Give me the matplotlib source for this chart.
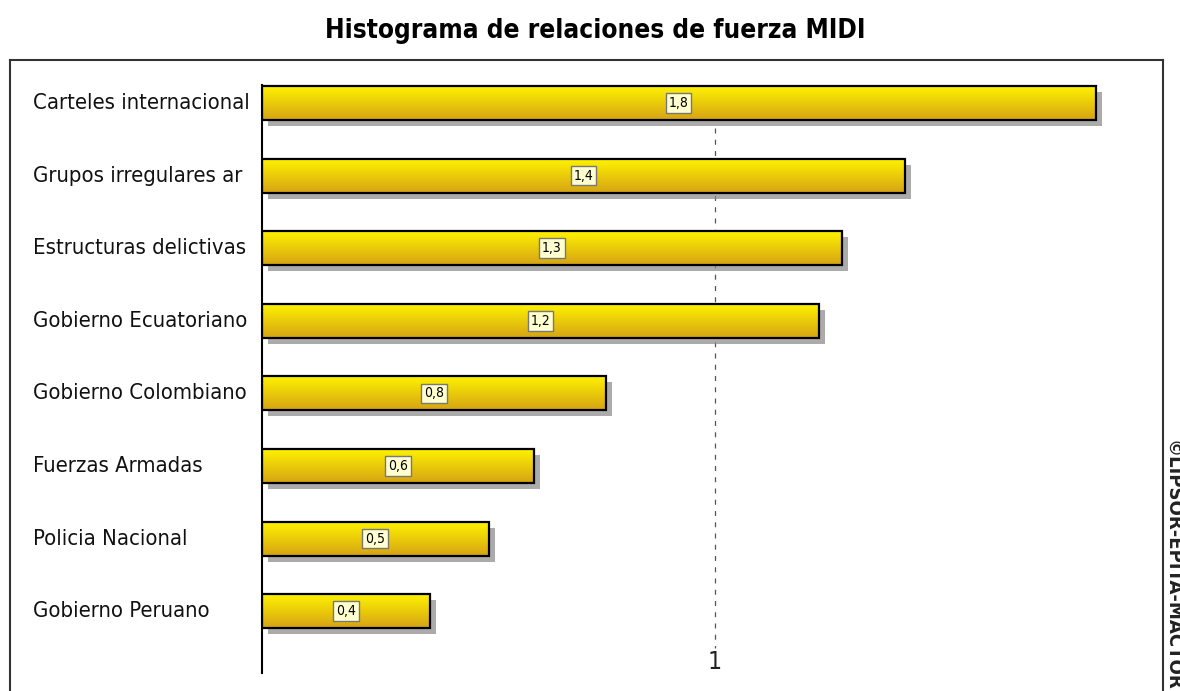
import numpy as np
import matplotlib
matplotlib.use("Agg")
import matplotlib.pyplot as plt
from matplotlib.patches import Rectangle
from matplotlib.lines import Line2D
from matplotlib import font_manager
from matplotlib.font_manager import FontProperties

categories = ["Carteles internacional", "Grupos irregulares ar", "Estructuras delictivas",
              "Gobierno Ecuatoriano", "Gobierno Colombiano", "Fuerzas Armadas",
              "Policia Nacional", "Gobierno Peruano"]
values = [1.84, 1.42, 1.28, 1.23, 0.76, 0.60, 0.50, 0.37]
value_labels = ["1,8", "1,4", "1,3", "1,2", "0,8", "0,6", "0,5", "0,4"]
title = "Histograma de relaciones de fuerza MIDI"
copyright_text = "©LIPSOR-EPITA-MACTOR"


def find_font(keys_regular, keys_bold):
    files = [f.fname for f in font_manager.fontManager.ttflist]
    files += font_manager.findSystemFonts()
    reg = bold = None
    for key in keys_regular:
        for fn in files:
            if key.lower() in fn.lower().replace('\\', '/').split('/')[-1]:
                reg = reg or fn
    for key in keys_bold:
        for fn in files:
            if key.lower() in fn.lower().replace('\\', '/').split('/')[-1]:
                bold = bold or fn
    return reg, bold


reg, bold = find_font(["LiberationSansNarrow-Regular", "DejaVuSansCondensed.ttf"],
                      ["LiberationSansNarrow-Bold.", "DejaVuSansCondensed-Bold."])
narrow = reg is not None and "Narrow" in reg


def fp(size, is_bold=False):
    fn = bold if is_bold else reg
    if fn:
        return FontProperties(fname=fn, size=size)
    return FontProperties(family='DejaVu Sans', size=size, weight='bold' if is_bold else 'normal')


W, H = 1180, 691
fig = plt.figure(figsize=(W / 100, H / 100), dpi=100)

ax_left, ax_right, ax_top, ax_bottom = 262, 1163, 60, 691
ax = fig.add_axes([ax_left / W, 1 - ax_bottom / H, (ax_right - ax_left) / W, (ax_bottom - ax_top) / H])
px_per_x = 453.0
px_per_y = 72.6
y0_px = 103
ax.axis('off')

cat_size = 17 if narrow else 15.8
title_size = 20 if narrow else 18.8

ax.plot([1, 1], [0.35, 7.5], color='#555555', lw=0.9, ls=(0, (4, 5)), zorder=1)
ax.text(1, 7.7, "1", ha='center', va='center', fontproperties=fp(cat_size + 2), color='#222222')

ax.plot([0, 0], [-0.25, 7.85], color='black', lw=1.5, zorder=5, clip_on=False)

bh = 0.47
grad = np.linspace(0, 1, 64).reshape(-1, 1)
c_top = np.array([1.0, 0.96, 0.0])
c_bot = np.array([0.84, 0.64, 0.08])
img = c_top[None, None, :] * (1 - grad[:, :, None]) + c_bot[None, None, :] * grad[:, :, None]

dx = 6 / px_per_x
dy = 6 / px_per_y
for i, (v, lab) in enumerate(zip(values, value_labels)):
    ax.add_patch(Rectangle((dx, i - bh / 2 + dy), v, bh, facecolor='#888888', edgecolor='none',
                           alpha=0.7, zorder=2))
    ax.imshow(img, extent=[0, v, i + bh / 2, i - bh / 2], aspect='auto', zorder=3,
              interpolation='bilinear')
    ax.add_patch(Rectangle((0, i - bh / 2), v, bh, facecolor='none', edgecolor='black',
                           lw=1.6, zorder=4))
    ax.text(v / 2, i, lab, ha='center', va='center', fontproperties=fp(10), color='black', zorder=6,
            bbox=dict(boxstyle='square,pad=0.2', facecolor='#FFFFD0', edgecolor='#777777', lw=1))

ax.set_xlim(0, (ax_right - ax_left) / px_per_x)
ax.set_ylim((ax_bottom - y0_px) / px_per_y, (ax_top - y0_px) / px_per_y)

for i, c in enumerate(categories):
    fig.text(33 / W, 1 - (y0_px + px_per_y * i) / H, c, ha='left', va='center',
             fontproperties=fp(cat_size), color='#111111')

fig.text(595 / W, 1 - 31 / H, title, ha='center', va='center',
         fontproperties=fp(title_size, True), color='black')

fig.add_artist(Line2D([10 / W, 10 / W], [1 - 60 / H, 0], color='#333333', lw=1.5))
fig.add_artist(Line2D([10 / W, 1163 / W], [1 - 60 / H, 1 - 60 / H], color='#333333', lw=1.5))
fig.add_artist(Line2D([1163 / W, 1163 / W], [1 - 60 / H, 0], color='#333333', lw=1.5))

fig.text(1172 / W, 1 - 440 / H, copyright_text, ha='center', va='top', rotation=-90,
         fontproperties=fp(14.5, True), color='#222222')

fig.savefig("out.png", dpi=100)
